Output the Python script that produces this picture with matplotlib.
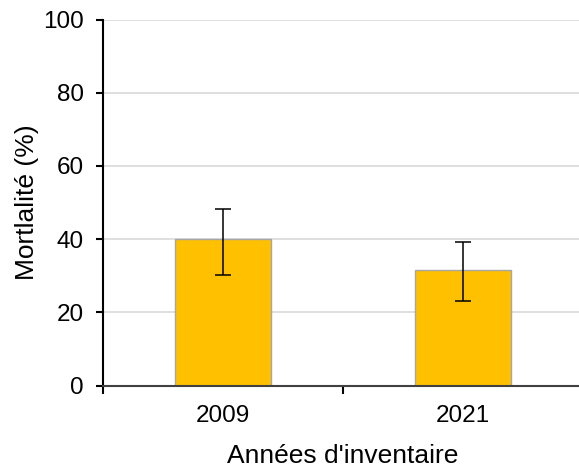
import matplotlib
matplotlib.use("Agg")
import matplotlib.pyplot as plt
import numpy as np

categories = ["2009", "2021"]
mortality = [40.0, 31.6]
err_low = [9.9, 8.6]
err_high = [8.1, 7.7]
y_ticks = [0, 20, 40, 60, 80, 100]

plt.rcParams['font.family'] = ['Liberation Sans', 'DejaVu Sans']

fig = plt.figure(figsize=(5.79, 4.68), dpi=100)
ax = fig.add_axes([103/579, (468-385.5)/468, (583-103)/579, (385.5-19.5)/468])

x = np.arange(len(categories))
ax.bar(x, mortality, width=0.4, color="#FFC000", edgecolor="#A6A6A6", linewidth=1.0, zorder=2)
ax.errorbar(x, mortality, yerr=[err_low, err_high], fmt="none", ecolor="black",
            elinewidth=1.1, capsize=6, capthick=1.1, zorder=3)

ax.set_xlim(-0.5, 1.5)
ax.set_ylim(0, 100)
ax.set_yticks(y_ticks)
ax.set_xticks(x)
ax.set_xticklabels(categories)
ax.set_xticks([-0.5, 0.5, 1.5], minor=True)
ax.tick_params(axis="x", which="major", length=0, pad=14, labelsize=17.5)
ax.tick_params(axis="x", which="minor", length=5.5, width=1.5, direction="out")
ax.tick_params(axis="y", which="major", length=5, width=1.5, pad=9, labelsize=17.5)
ax.yaxis.grid(True, color="#D9D9D9", linewidth=1.2, zorder=0)
ax.set_axisbelow(True)
for s in ["top", "right"]:
    ax.spines[s].set_visible(False)
ax.spines["left"].set_linewidth(1.5)
ax.spines["bottom"].set_linewidth(1.5)
ax.spines["bottom"].set_color("#404040")

ax.set_ylabel("Mortlalité (%)", fontsize=19, labelpad=3)
ax.set_xlabel("Années d'inventaire", fontsize=19, labelpad=12)

fig.savefig("out.png", dpi=100)
